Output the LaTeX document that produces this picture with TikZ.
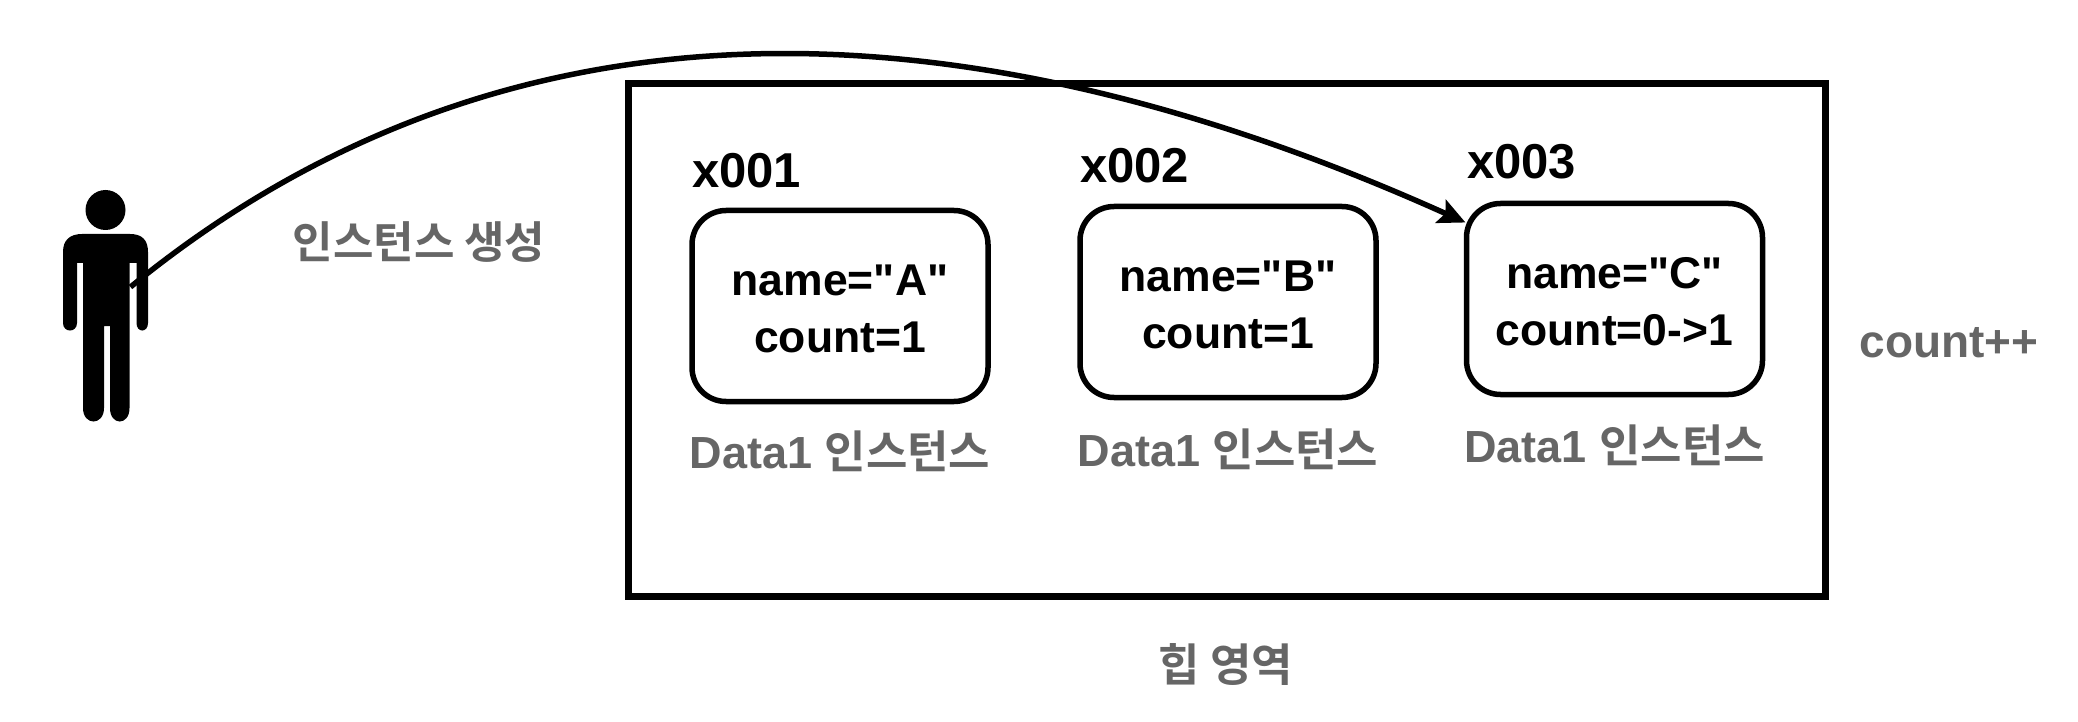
\documentclass[tikz,border=0pt]{standalone}
\usepackage{fontspec}
\setmainfont{Liberation Sans}
\newfontfamily\latfont{Liberation Sans}
\newfontfamily\krfont{Noto Sans CJK KR}[BoldFont={Noto Sans CJK KR Bold}]
\usetikzlibrary{arrows.meta}
\definecolor{labelgray}{HTML}{666666}
\newcommand{\kr}[1]{{\krfont\bfseries #1}}
\tikzset{
  heapbox/.style={draw=black,line width=7pt,rectangle,inner sep=0pt,outer sep=0pt,minimum width=1197pt,minimum height=512pt},
  objbox/.style={draw=black,line width=5.5pt,rectangle,rounded corners=34pt,inner sep=0pt,outer sep=0pt,minimum width=296pt,minimum height=191pt},
  objtext/.style={inner sep=0pt,align=center,font=\latfont\fontsize{44.5}{57}\selectfont\bfseries},
  addr/.style={anchor=west,inner sep=0pt,font=\fontsize{49}{52}\selectfont\bfseries},
  graylabel/.style={text=labelgray,inner sep=0pt,font=\fontsize{45}{50}\selectfont\bfseries},
  flow/.style={draw=black,line width=5.5pt,-{Stealth[length=27pt,width=25pt,inset=5pt]}},
}
\begin{document}
\begin{tikzpicture}[x=1pt,y=-1pt]
\useasboundingbox (0,0) rectangle (2078,722);
\node[heapbox] (heap) at (1226.5,340) {};
\node[objbox] (boxA) at (840,306) {};
\node[objbox] (boxB) at (1228,302) {};
\node[objbox] (boxC) at (1614.5,299) {};
\node[objtext] (textA) at (840,309) {name="A"\\count=1};
\node[objtext] (textB) at (1228,305) {name="B"\\count=1};
\node[objtext] (textC) at (1614.5,302) {name="C"\\count=0->1};
\node[addr] (addrA) at (692,171) {x001};
\node[addr] (addrB) at (1080,166) {x002};
\node[addr] (addrC) at (1467,162) {x003};
\node[graylabel] (capA) at (840,451) {Data1 \kr{인스턴스}};
\node[graylabel] (capB) at (1228,449) {Data1 \kr{인스턴스}};
\node[graylabel] (capC) at (1614.5,445) {Data1 \kr{인스턴스}};
\node[graylabel,font=\fontsize{44}{50}\selectfont\bfseries] (create) at (419,242) {\kr{인스턴스 생성}};
\node[graylabel,font=\fontsize{46}{50}\selectfont\bfseries] (inc) at (1949,343) {count++};
\node[graylabel] (heaplabel) at (1226,665) {\kr{힙 영역}};
% person
\fill[black] (105.5,210) circle (20);
\fill[black] (63,252) .. controls (63,240) and (70,234) .. (82,234)
  -- (130,234) .. controls (142,234) and (148,240) .. (148,252)
  -- (148,323) .. controls (148,333) and (136.5,333) .. (136.5,323)
  -- (136.5,263) -- (129.5,263) -- (129.5,408)
  .. controls (129.5,426) and (110,426) .. (110,408)
  -- (110,326) -- (104,326) -- (104,408)
  .. controls (104,426) and (83,426) .. (83,408)
  -- (83,263) -- (77,263) -- (77,323)
  .. controls (77,333) and (63,333) .. (63,323) -- cycle;
\node[inner sep=0pt,outer sep=0pt,minimum width=85pt,minimum height=232pt] (person) at (105.5,306) {};
\draw[flow] ([xshift=25pt,yshift=19pt]person.center)
  .. controls (435,38) and (860,-50) ..
  ([xshift=-1pt,yshift=-19pt]boxC.north west);
\end{tikzpicture}
\end{document}
